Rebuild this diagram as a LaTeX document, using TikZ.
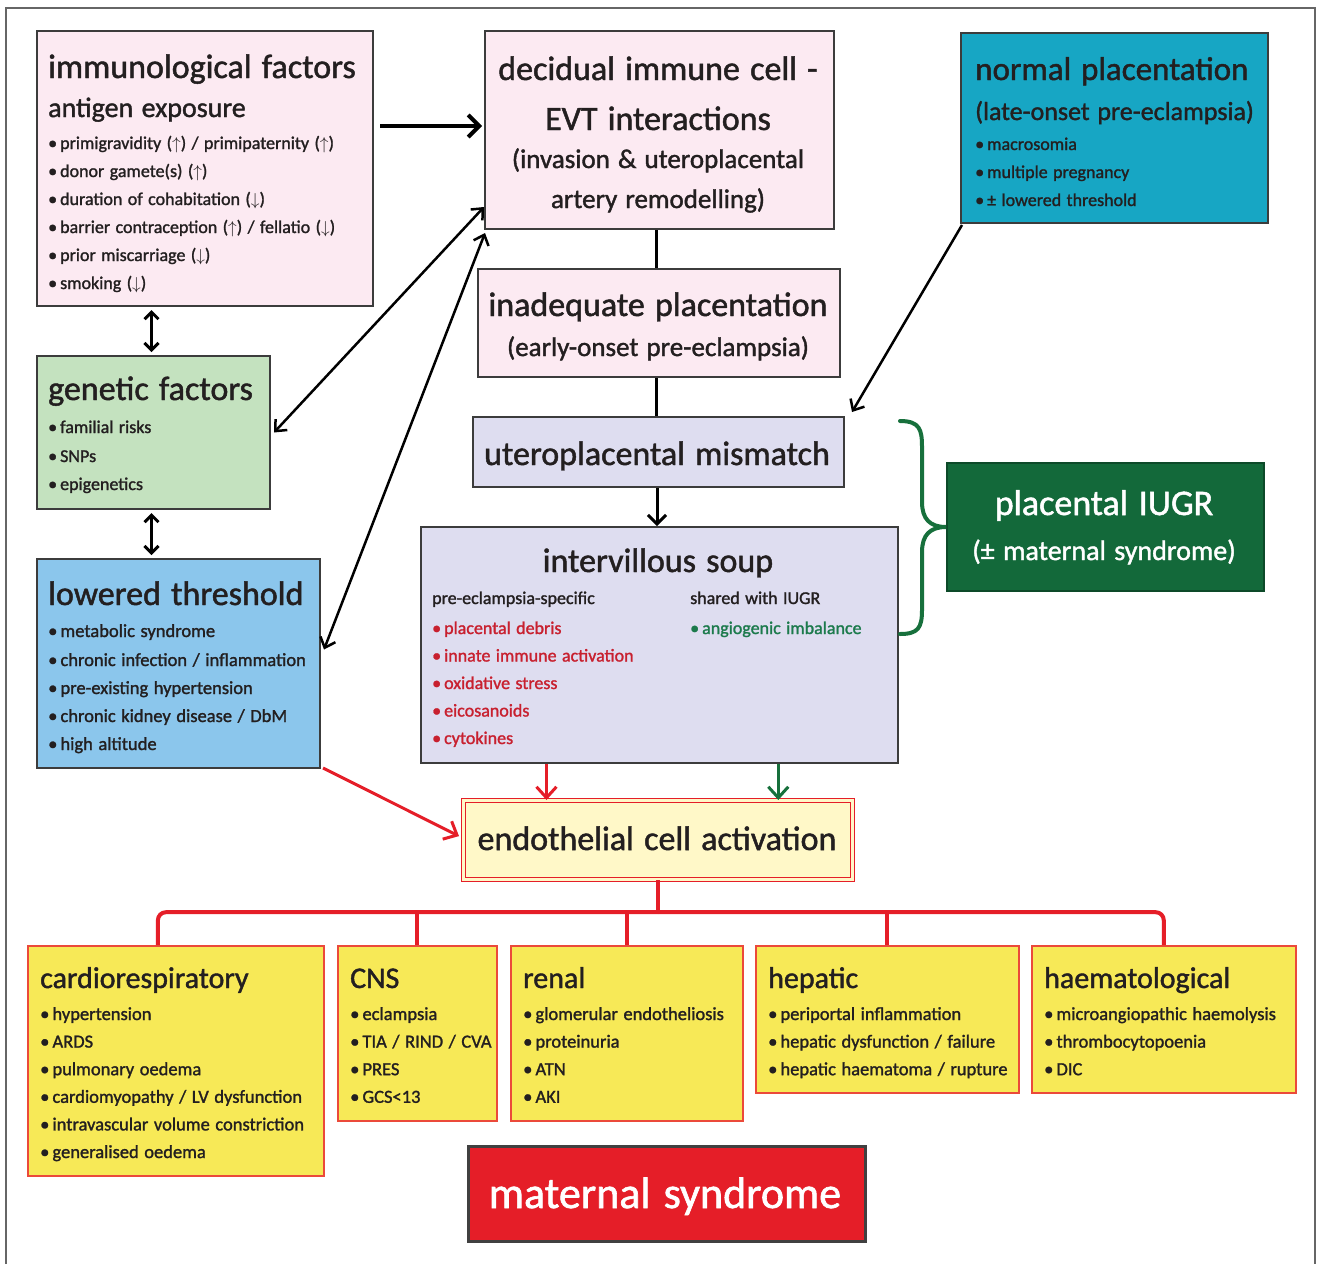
\documentclass[tikz,border=0pt]{standalone}
\usepackage{fontspec}
\setmainfont{Carlito}
\newfontfamily\bodyfont{Carlito}[FakeBold=1.4]
\usetikzlibrary{arrows.meta,calc}
\setlength\parindent{0pt}
\setlength\lineskiplimit{-100pt}

\definecolor{ink}{HTML}{231F20}
\definecolor{edge}{HTML}{3C3C3C}
\definecolor{pinkfill}{HTML}{FCEAF2}
\definecolor{tealfill}{HTML}{17A6C4}
\definecolor{greenfill}{HTML}{C4E2BF}
\definecolor{bluefill}{HTML}{8BC6EC}
\definecolor{lavfill}{HTML}{DEDDF0}
\definecolor{iugrfill}{HTML}{13693A}
\definecolor{paleyellow}{HTML}{FFF8C8}
\definecolor{organyellow}{HTML}{F7E957}
\definecolor{organedge}{HTML}{EB4A3A}
\definecolor{alarm}{HTML}{E51E28}
\definecolor{itemred}{HTML}{C8202F}
\definecolor{itemgreen}{HTML}{1C7A4C}
\definecolor{leafgreen}{HTML}{17703C}

% font set-up shared by every line: size, baseline skip, fixed word spaces
\newcommand\linefont[2]{\bodyfont\fontsize{#1}{#2}\selectfont\spaceskip=0.3em\relax}
% one line of text: size, baseline skip, content
\newcommand\tline[3]{{\linefont{#1}{#2}#3\par}}
% one bulleted line: size, baseline skip, content
\newcommand\bline[3]{{\linefont{#1}{#2}\textbullet\,#3\par}}
% coloured bulleted line: colour, size, baseline skip, content
\newcommand\cbline[4]{{\linefont{#2}{#3}\leavevmode\color{#1}\textbullet\,#4\par}}
\newcommand\risearrow{($\mathbf{\uparrow}$)}
\newcommand\fallarrow{($\mathbf{\downarrow}$)}

\tikzset{
  box/.style={draw=edge, line width=2pt, inner sep=0pt, anchor=north west},
  organ/.style={draw=organedge, line width=1.5pt, fill=organyellow, inner sep=0pt, anchor=north west},
  txt/.style={inner sep=0pt, anchor=base west, align=left, text width=#1pt, text=ink},
  ctxt/.style={inner sep=0pt, anchor=base, align=center, text width=#1pt, text=ink},
  link/.style={draw=black, line width=2.5pt},
  barb/.tip={Straight Barb[length=9pt,width=16pt]},
  redlink/.style={draw=alarm, line width=3pt},
  bus/.style={draw=alarm, line width=4pt},
}

\begin{document}
\begin{tikzpicture}[x=1pt,y=-1pt]
\useasboundingbox (0,0) rectangle (1317,1264);
\fill[white] (0,0) rectangle (1317,1264);

% frame
\draw[gray!80!black, line width=2pt] (6,1264) -- (6,8) -- (1315,8) -- (1315,1264);

% ---------- boxes ----------
\node[box, fill=pinkfill, minimum width=336, minimum height=275] (immuno) at (36,30) {};
\node[box, fill=pinkfill, minimum width=349, minimum height=198] (decidual) at (484,30) {};
\node[box, fill=tealfill, minimum width=307, minimum height=190] (normal) at (960,32) {};
\node[box, fill=greenfill, minimum width=233, minimum height=153] (genetic) at (36,355) {};
\node[box, fill=bluefill, minimum width=283, minimum height=209] (lowered) at (36,558) {};
\node[box, fill=pinkfill, minimum width=362, minimum height=108] (inadequate) at (477,268) {};
\node[box, fill=lavfill, minimum width=371, minimum height=70] (mismatch) at (472,416) {};
\node[box, fill=lavfill, minimum width=477, minimum height=236] (soup) at (420,526) {};
\node[box, draw=iugrfill!70!black, fill=iugrfill, minimum width=317, minimum height=128] (iugr) at (946,462) {};
\node[box, draw=alarm, line width=1.2pt, double=paleyellow, double distance=3pt, fill=paleyellow,
      minimum width=389, minimum height=79] (endo) at (463,800) {};
\node[organ, minimum width=296, minimum height=230] (cardio) at (27,945) {};
\node[organ, minimum width=159, minimum height=175] (cns) at (337,945) {};
\node[organ, minimum width=232, minimum height=175] (renal) at (510,945) {};
\node[organ, minimum width=263, minimum height=147] (hepatic) at (755,945) {};
\node[organ, minimum width=264, minimum height=147] (haemat) at (1031,945) {};
\node[box, draw=black!75, line width=3pt, fill=alarm, minimum width=397, minimum height=95] (maternal) at (467,1145) {};

% ---------- texts ----------
\node[txt=330] (immunoText) at (48,78) {%
  \tline{34}{40}{immunological factors}
  \tline{28}{39}{antigen exposure}
  \bline{18}{32}{primigravidity \risearrow{} / primipaternity \risearrow}
  \bline{18}{28}{donor gamete(s) \risearrow}
  \bline{18}{28}{duration of cohabitation \fallarrow}
  \bline{18}{28}{barrier contraception \risearrow{} / fellatio \fallarrow}
  \bline{18}{28}{prior miscarriage \fallarrow}
  \bline{18}{28}{smoking \fallarrow}
};

\node[ctxt=345] (decidualText) at (658,80) {%
  \tline{34}{40}{decidual immune cell -}
  \tline{34}{50}{EVT interactions}
  \tline{27}{38}{(invasion \& uteroplacental}
  \tline{27}{40}{artery remodelling)}
};

\node[txt=300] (normalText) at (975,80) {%
  \tline{33}{40}{normal placentation}
  \tline{26}{40}{(late-onset pre-eclampsia)}
  \bline{18}{30}{macrosomia}
  \bline{18}{28}{multiple pregnancy}
  \bline{18}{28}{± lowered threshold}
};

\node[txt=225] (geneticText) at (48,400) {%
  \tline{34}{40}{genetic factors}
  \bline{18}{33}{familial risks}
  \bline{18}{29}{SNPs}
  \bline{18}{28}{epigenetics}
};

\node[txt=275] (loweredText) at (48,605) {%
  \tline{34}{40}{lowered threshold}
  \bline{18.5}{32}{metabolic syndrome}
  \bline{18.5}{29}{chronic infection / inflammation}
  \bline{18.5}{28}{pre-existing hypertension}
  \bline{18.5}{28}{chronic kidney disease / DbM}
  \bline{18.5}{28}{high altitude}
};

\node[ctxt=360] (inadequateText) at (658,316) {%
  \tline{34}{40}{inadequate placentation}
  \tline{27}{40}{(early-onset pre-eclampsia)}
};

\node[ctxt=365] (mismatchText) at (657,465) {\tline{34}{40}{uteroplacental mismatch}};

\node[ctxt=460] (soupTitle) at (658,572) {\tline{34}{40}{intervillous soup}};
\node[txt=250] (soupLeft) at (432,604) {%
  \tline{18}{26}{pre-eclampsia-specific}
  \cbline{itemred}{18}{30}{placental debris}
  \cbline{itemred}{18}{27.5}{innate immune activation}
  \cbline{itemred}{18}{27.5}{oxidative stress}
  \cbline{itemred}{18}{27.5}{eicosanoids}
  \cbline{itemred}{18}{27.5}{cytokines}
};
\node[txt=200] (soupRight) at (690,604) {%
  \tline{18}{26}{shared with IUGR}
  \cbline{itemgreen}{18}{30}{angiogenic imbalance}
};

\node[ctxt=310, text=white] (iugrText) at (1104,515) {%
  \tline{36}{40}{placental IUGR}
  \tline{28}{45}{(± maternal syndrome)}
};

\node[ctxt=385] (endoText) at (657,850) {\tline{34}{40}{endothelial cell activation}};

\node[txt=290] (cardioText) at (40,988) {%
  \tline{30}{36}{cardiorespiratory}
  \bline{18.5}{32}{hypertension}
  \bline{18.5}{27.6}{ARDS}
  \bline{18.5}{27.6}{pulmonary oedema}
  \bline{18.5}{27.6}{cardiomyopathy / LV dysfunction}
  \bline{18.5}{27.6}{intravascular volume constriction}
  \bline{18.5}{27.6}{generalised oedema}
};
\node[txt=150] (cnsText) at (350,988) {%
  \tline{30}{36}{CNS}
  \bline{18.5}{32}{eclampsia}
  \bline{18.5}{27.6}{TIA / RIND / CVA}
  \bline{18.5}{27.6}{PRES}
  \bline{18.5}{27.6}{GCS<13}
};
\node[txt=225] (renalText) at (523,988) {%
  \tline{30}{36}{renal}
  \bline{18.5}{32}{glomerular endotheliosis}
  \bline{18.5}{27.6}{proteinuria}
  \bline{18.5}{27.6}{ATN}
  \bline{18.5}{27.6}{AKI}
};
\node[txt=255] (hepaticText) at (768,988) {%
  \tline{30}{36}{hepatic}
  \bline{18.5}{32}{periportal inflammation}
  \bline{18.5}{27.6}{hepatic dysfunction / failure}
  \bline{18.5}{27.6}{hepatic haematoma / rupture}
};
\node[txt=255] (haematText) at (1044,988) {%
  \tline{30}{36}{haematological}
  \bline{18.5}{32}{microangiopathic haemolysis}
  \bline{18.5}{27.6}{thrombocytopoenia}
  \bline{18.5}{27.6}{DIC}
};

\node[ctxt=390, text=white] (maternalText) at (665,1208) {\tline{44}{50}{maternal syndrome}};

% ---------- connectors ----------
\draw[link, line width=4pt, -{Straight Barb[length=11pt,width=22pt]}]
  ($(immuno.east |- decidual.west)+(6,-4)$) -- ($(decidual.west)+(-2,-4)$);
\draw[link, line width=3pt, {Straight Barb[length=7pt,width=14pt]}-{Straight Barb[length=7pt,width=14pt]}]
  ($(immuno.south -| genetic.north)+(-2,3)$) -- ($(genetic.north)+(-2,-3)$);
\draw[link, line width=3pt, {Straight Barb[length=7pt,width=14pt]}-{Straight Barb[length=7pt,width=14pt]}]
  ($(genetic.south)+(-2,3)$) -- ($(genetic.south |- lowered.north)+(-2,-3)$);
\draw[link, {barb}-{barb}] ($(genetic.east)+(3,0)$) -- ($(decidual.south west)+(0,-23)$);
\draw[link, {barb}-{barb}] ($(lowered.east)+(3,-14)$) -- ($(decidual.south west)+(1,3)$);
\draw[link, -{barb}] ($(normal.south west)+(2,1)$) -- ($(mismatch.north east)+(7,-4)$);
\draw[link, line width=3pt] (decidual.south -| 656,0) -- (inadequate.north -| 656,0);
\draw[link, line width=3pt] (inadequate.south -| 656,0) -- (mismatch.north -| 656,0);
\draw[link, line width=3pt, -{Straight Barb[length=9pt,width=18pt]}] (mismatch.south -| 657,0) -- (soup.north -| 657,0);

\coordinate (redOut) at ($(soup.south west)!0.264!(soup.south east)$);
\coordinate (greenOut) at ($(soup.south west)!0.748!(soup.south east)$);
\draw[redlink, -{Straight Barb[length=11pt,width=20pt]}] (redOut) -- (redOut |- endo.north);
\draw[redlink, draw=leafgreen, -{Straight Barb[length=11pt,width=20pt]}] (greenOut) -- (greenOut |- endo.north);
\draw[redlink, -{Straight Barb[length=11pt,width=20pt]}] ($(lowered.south east)+(2,-1)$) -- ($(endo.west)+(-4,-4)$);

% brace grouping the placental part
\draw[leafgreen, line width=4pt, line cap=round]
  (900,421) .. controls (920,421) and (922,430) .. (922,447) -- (922,502)
  .. controls (922,519) and (930,527) .. (iugr.west)
  .. controls (930,527) and (922,535) .. (922,552) -- (922,610)
  .. controls (922,628) and (918,634) .. (900,634);

% distribution bus to the organ systems
\coordinate (bus) at ($(endo.south)+(0,32)$);
\draw[bus] (endo.south) -- (bus);
\draw[bus, rounded corners=8pt] ($(cardio.north west)!0.44!(cardio.north east)$) |- (bus);
\draw[bus, rounded corners=8pt] (haemat.north) |- (bus);
\draw[bus] (cns.north) -- (cns.north |- bus);
\draw[bus] (renal.north) -- (renal.north |- bus);
\draw[bus] (hepatic.north) -- (hepatic.north |- bus);
\end{tikzpicture}
\end{document}
